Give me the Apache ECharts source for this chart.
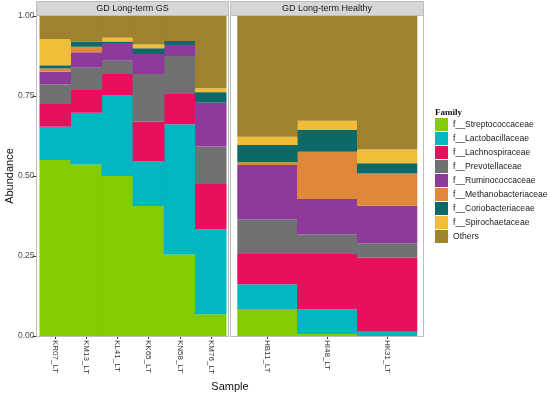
<!DOCTYPE html>
<html>
<head>
<meta charset="utf-8">
<script src="https://cdn.jsdelivr.net/npm/echarts@6/dist/echarts.min.js"></script>
<style>html,body{margin:0;padding:0;background:#fff;}#c{width:550px;height:397px;}</style>
</head>
<body>
<div id="c"></div>
<script>
// Samples per facet panel
const gsSamples = ['KR07_LT', 'KM13_LT', 'KL41_LT', 'KK65_LT', 'KN58_LT', 'KM76_LT'];
const healthySamples = ['HB11_LT', 'HI48_LT', 'HK31_LT'];
const panelTitles = ['GD Long-term GS', 'GD Long-term Healthy'];
const families = ['f__Streptococcaceae', 'f__Lactobacillaceae', 'f__Lachnospiraceae', 'f__Prevotellaceae',
  'f__Ruminococcaceae', 'f__Methanobacteriaceae', 'f__Coriobacteriaceae', 'f__Spirochaetaceae', 'Others'];
const familyColors = ['#84cc02', '#00b6c0', '#e6105f', '#707173', '#8e3a9d', '#e0883a', '#0b6a67', '#f1bd36', '#9e822f'];

// Abundance values: first 6 = GS samples, last 3 = Healthy samples
const strep   = [0.550, 0.536, 0.500, 0.406, 0.255, 0.068, 0.084, 0.006, 0.000];
const lacto   = [0.104, 0.162, 0.253, 0.139, 0.407, 0.265, 0.078, 0.077, 0.013];
const lachno  = [0.071, 0.071, 0.066, 0.125, 0.094, 0.142, 0.094, 0.173, 0.232];
const prevo   = [0.061, 0.069, 0.041, 0.149, 0.119, 0.117, 0.109, 0.062, 0.045];
const rumino  = [0.040, 0.049, 0.056, 0.062, 0.034, 0.137, 0.169, 0.110, 0.117];
const methano = [0.010, 0.017, 0.000, 0.000, 0.000, 0.000, 0.009, 0.148, 0.101];
const corio   = [0.010, 0.016, 0.004, 0.018, 0.013, 0.033, 0.054, 0.068, 0.032];
const spiro   = [0.082, 0.000, 0.012, 0.012, 0.000, 0.012, 0.026, 0.029, 0.043];
const others  = [0.072, 0.080, 0.068, 0.089, 0.078, 0.226, 0.377, 0.327, 0.417];
const yTicks = [0, 0.25, 0.5, 0.75, 1];

const familyValues = [strep, lacto, lachno, prevo, rumino, methano, corio, spiro, others];
const nGS = gsSamples.length;

const FONT = '"Liberation Sans", Arial, sans-serif';
const chart = echarts.init(document.getElementById('c'), null, {renderer: 'canvas'});

const series = [];
families.forEach((name, i) => {
  series.push({
    name: name, type: 'bar', stack: 'gs', xAxisIndex: 0, yAxisIndex: 0,
    barWidth: '102%', barCategoryGap: 0,
    itemStyle: {color: familyColors[i]},
    data: familyValues[i].slice(0, nGS)
  });
  series.push({
    name: name, type: 'bar', stack: 'healthy', xAxisIndex: 1, yAxisIndex: 1,
    barWidth: '101%', barCategoryGap: 0,
    itemStyle: {color: familyColors[i]},
    data: familyValues[i].slice(nGS)
  });
});

const xAxisCommon = {
  type: 'category',
  axisLine: {show: false},
  axisTick: {show: true, alignWithLabel: true, length: 3, lineStyle: {color: '#333', width: 1}},
  axisLabel: {rotate: -90, margin: 4, fontSize: 8, color: '#333', fontFamily: FONT, interval: 0},
  splitLine: {show: false}
};

const panels = [
  {x: 36.5, w: 192},
  {x: 230.5, w: 193}
];

const graphics = [];
panels.forEach((p, i) => {
  graphics.push({type: 'rect', z: 100, silent: true,
    shape: {x: p.x, y: 15.5, width: p.w, height: 321},
    style: {fill: 'none', stroke: '#bdbdbd', lineWidth: 1}});
  graphics.push({type: 'rect', z: 100, silent: true,
    shape: {x: p.x, y: 1.5, width: p.w, height: 14},
    style: {fill: '#d6d6d6', stroke: '#bdbdbd', lineWidth: 1}});
  graphics.push({type: 'text', z: 101, silent: true,
    x: p.x + p.w / 2, y: 8.5,
    style: {text: panelTitles[i], fill: '#1a1a1a', fontSize: 9, fontFamily: FONT, align: 'center', verticalAlign: 'middle'}});
});
graphics.push({type: 'text', silent: true, x: 10, y: 176, rotation: Math.PI / 2,
  style: {text: 'Abundance', fill: '#111', fontSize: 11, fontFamily: FONT, align: 'center', verticalAlign: 'middle'}});
graphics.push({type: 'text', silent: true, x: 230, y: 387,
  style: {text: 'Sample', fill: '#111', fontSize: 11, fontFamily: FONT, align: 'center', verticalAlign: 'middle'}});
graphics.push({type: 'text', silent: true, x: 435, y: 113,
  style: {text: 'Family', fill: '#111', fontSize: 9, fontWeight: 'bold', fontFamily: '"Liberation Serif", serif', align: 'left', verticalAlign: 'middle'}});

chart.setOption({
  animation: false,
  backgroundColor: '#ffffff',
  grid: [
    {left: 39.5, top: 16, width: 187, height: 320},
    {left: 237.3, top: 16, width: 180, height: 320}
  ],
  xAxis: [
    Object.assign({gridIndex: 0, data: gsSamples}, xAxisCommon),
    Object.assign({gridIndex: 1, data: healthySamples}, xAxisCommon)
  ],
  yAxis: [
    {type: 'value', gridIndex: 0, min: 0, max: 1, interval: 0.25, offset: 3,
      axisLine: {show: false},
      axisTick: {show: true, length: 4, lineStyle: {color: '#333'}},
      axisLabel: {margin: 2, fontSize: 8.5, color: '#4d4d4d', fontFamily: FONT,
        formatter: v => (yTicks.indexOf(v) >= 0 ? v.toFixed(2) : '')},
      splitLine: {show: false}},
    {type: 'value', gridIndex: 1, min: 0, max: 1, interval: 0.25, show: false, splitLine: {show: false}}
  ],
  legend: {
    orient: 'vertical', left: 435, top: 118, padding: 0,
    itemWidth: 13, itemHeight: 13, itemGap: 1, icon: 'rect',
    textStyle: {fontSize: 8.6, color: '#1a1a1a', fontFamily: FONT},
    data: families
  },
  graphic: graphics,
  series: series
});
</script>
</body>
</html>
